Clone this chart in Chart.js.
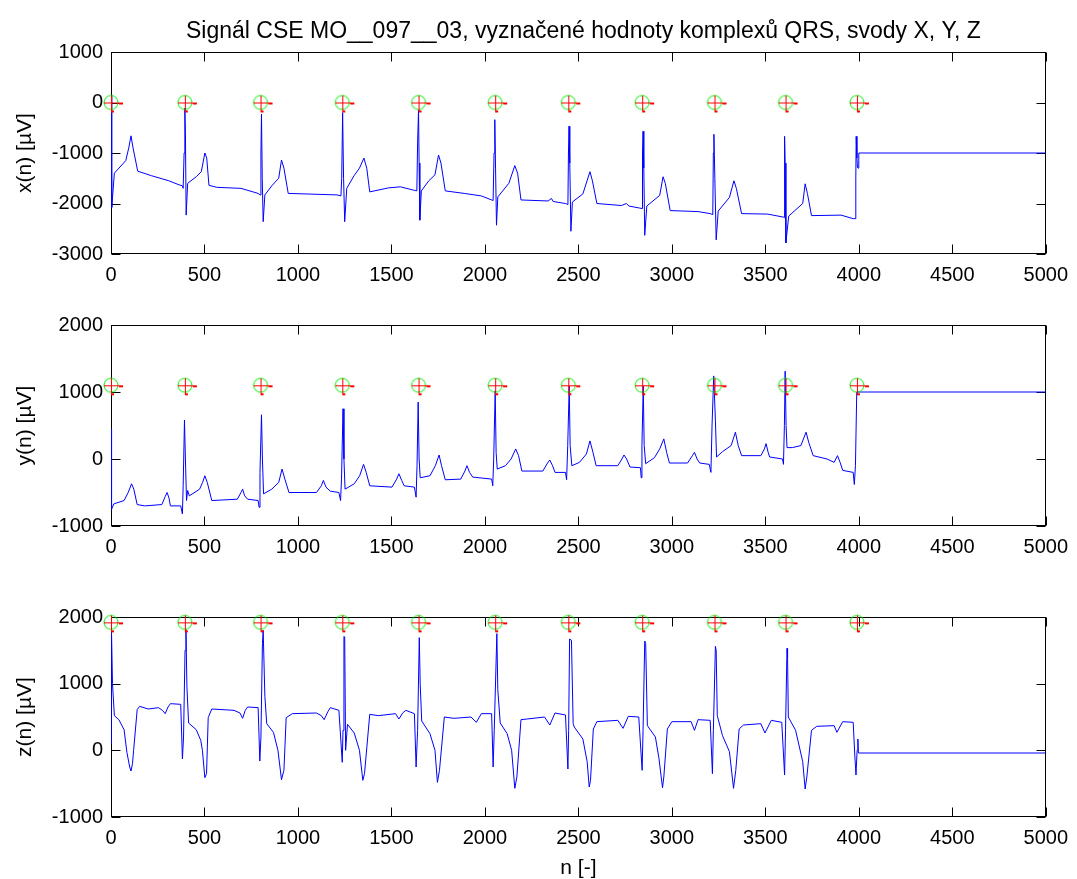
<!DOCTYPE html>
<html>
<head>
<meta charset="utf-8">
<script src="https://cdn.jsdelivr.net/npm/chart.js@4/dist/chart.umd.min.js"></script>
<style>
  body { margin: 0; background: #fff; width: 1077px; height: 879px; overflow: hidden; position: relative; }
  canvas { position: absolute; left: 0; }
</style>
</head>
<body>
<canvas id="c1" width="1077" height="290" style="top:0px"></canvas>
<canvas id="c2" width="1077" height="272" style="top:290px"></canvas>
<canvas id="c3" width="1077" height="317" style="top:562px"></canvas>
<script>
// QRS positions (sample index) and the level the markers are drawn at in each lead
const qrsN = [0, 395, 800, 1237, 1645, 2055, 2446, 2841, 3228, 3608, 3990];
const markerLevels = [0, 1100, 1920];

const yTitles = ['x(n) [µV]', 'y(n) [µV]', 'z(n) [µV]'];
const yMin = [-3000, -1000, -1000];
const yMax = [1000, 2000, 2000];

// lead X  [n, µV]
const leadX = [
  [0,150],[4,-2080],[18,-1400],[79,-1150],[95,-900],[107,-660],[118,-900],[143,-1360],[217,-1450],[309,-1550],[364,-1630],[382,-1650],
  [386,-1700],[391,-1000],[395,-110],[398,-600],[402,-2230],[410,-1600],[456,-1470],[483,-1370],[502,-1000],[512,-1100],[524,-1640],[566,-1680],[695,-1700],[787,-1800],
  [798,-1830],[802,-1000],[805,-230],[809,-1500],[814,-2360],[823,-1830],[860,-1650],[897,-1500],[912,-1140],[925,-1300],[948,-1800],[1209,-1830],[1230,-1850],
  [1234,-1500],[1239,-200],[1244,-1500],[1250,-2360],[1261,-1700],[1300,-1450],[1329,-1300],[1353,-1100],[1368,-1300],[1384,-1770],[1485,-1690],[1549,-1670],[1623,-1740],
  [1636,-1750],[1640,-800],[1645,-150],[1648,-1200],[1652,-2330],[1660,-1750],[1700,-1550],[1733,-1430],[1752,-1040],[1765,-1200],[1788,-1750],[1889,-1800],[1981,-1850],[2036,-1930],
  [2044,-1940],[2049,-1000],[2053,-340],[2057,-1300],[2062,-2430],[2069,-1870],[2128,-1600],[2160,-1250],[2175,-1400],[2193,-1930],[2338,-1950],[2356,-1900],[2365,-1960],[2431,-2000],
  [2444,-2020],[2447,-1000],[2450,-470],[2454,-1200],[2460,-2550],[2468,-1970],[2524,-1810],[2562,-1370],[2575,-1550],[2599,-2000],[2730,-2040],[2757,-2000],[2770,-2050],[2827,-2090],
  [2841,-2100],[2843,-1000],[2846,-570],[2850,-1300],[2855,-2630],[2866,-2050],[2935,-1840],[2953,-1470],[2965,-1600],[2991,-2140],[3140,-2160],[3205,-2200],
  [3219,-2220],[3222,-1000],[3225,-630],[3230,-1500],[3237,-2720],[3248,-2150],[3308,-1880],[3332,-1550],[3345,-1700],[3373,-2200],[3513,-2210],[3597,-2270],
  [3601,-2280],[3603,-670],[3606,-1200],[3610,-2780],[3625,-2250],[3700,-2000],[3713,-1610],[3725,-1800],[3747,-2240],[3905,-2230],[3970,-2300],
  [3980,-2300],[3984,-1500],[3986,-670],[3990,-1100],[3993,-1290],[3996,-1300],[4000,-1000],[5000,-1000]
];

// lead Y  [n, µV]
const leadY = [
  [0,450],[3,-750],[15,-670],[70,-620],[92,-500],[110,-370],[122,-450],[140,-680],[180,-700],[272,-680],[290,-560],[300,-500],[310,-580],[318,-700],[373,-700],
  [382,-820],[386,-400],[393,580],[398,0],[404,-620],[410,-470],[419,-550],[474,-450],[490,-350],[502,-250],[515,-350],[539,-620],[676,-600],[695,-500],[704,-450],[715,-550],[731,-600],[787,-620],
  [792,-720],[797,-200],[805,660],[810,0],[816,-520],[860,-450],[897,-350],[915,-150],[930,-300],[952,-500],[1099,-500],[1125,-400],[1136,-320],[1150,-420],[1173,-480],[1219,-500],
  [1228,-620],[1233,-300],[1241,750],[1246,0],[1252,-450],[1301,-370],[1330,-250],[1351,-80],[1365,-200],[1384,-400],[1503,-420],[1528,-300],[1540,-220],[1555,-320],[1568,-400],[1623,-420],
  [1632,-570],[1637,-100],[1643,850],[1648,0],[1654,-280],[1706,-250],[1735,-100],[1755,60],[1768,-100],[1788,-310],[1871,-300],[1893,-180],[1904,-100],[1918,-200],[1935,-270],[2036,-300],
  [2042,-400],[2047,0],[2055,1020],[2060,100],[2066,-150],[2110,-100],[2140,0],[2165,150],[2180,50],[2198,-180],[2310,-180],[2335,-60],[2347,-15],[2362,-100],[2375,-200],[2431,-200],
  [2437,-310],[2443,200],[2451,1090],[2456,200],[2465,-100],[2506,-50],[2543,75],[2562,270],[2578,100],[2595,-100],[2711,-100],[2733,0],[2744,60],[2758,0],[2776,-120],[2832,-130],
  [2836,-280],[2840,200],[2847,1090],[2852,200],[2860,-70],[2907,20],[2935,150],[2957,300],[2972,100],[2987,-60],[3084,-60],[3110,50],[3121,100],[3135,0],[3149,-60],[3200,-80],
  [3209,-200],[3215,500],[3224,1240],[3233,570],[3239,30],[3271,110],[3317,200],[3340,400],[3355,200],[3373,50],[3476,50],[3495,150],[3504,230],[3515,100],[3523,30],[3592,0],
  [3597,-80],[3602,500],[3606,1310],[3611,500],[3616,170],[3644,170],[3690,200],[3718,400],[3732,250],[3756,50],[3830,0],[3868,-50],[3886,50],[3900,-50],[3914,-170],[3970,-200],
  [3976,-380],[3982,-100],[3989,1000],[5000,1000]
];

// lead Z  [n, µV]
const leadZ = [
  [0,100],[2,1900],[8,1000],[18,520],[42,460],[70,310],[85,-30],[100,-250],[107,-310],[115,-200],[121,0],[140,610],[153,660],[199,620],[254,640],[275,600],[290,550],[305,650],[318,700],[373,690],
  [382,-130],[388,200],[396,1500],[401,1810],[406,960],[415,410],[456,310],[480,150],[489,0],[502,-410],[511,-350],[520,490],[539,620],[658,600],[690,560],[704,480],[718,600],[731,650],[787,640],
  [796,-160],[802,200],[810,1600],[814,1800],[823,810],[833,400],[869,270],[893,0],[912,-440],[925,-300],[937,490],[970,550],[1099,560],[1125,520],[1140,460],[1160,580],[1173,640],[1219,600],
  [1237,-180],[1241,300],[1246,1710],[1250,1700],[1255,0],[1265,390],[1301,260],[1329,0],[1347,-450],[1356,-350],[1384,540],[1430,520],[1522,550],[1540,470],[1560,560],[1577,600],[1623,550],
  [1632,-250],[1640,300],[1649,1690],[1654,990],[1662,440],[1706,250],[1733,0],[1746,-480],[1757,-300],[1783,500],[1834,480],[1926,500],[1954,420],[1981,550],[2036,550],
  [2044,-250],[2050,300],[2064,1750],[2069,910],[2082,410],[2119,250],[2143,0],[2160,-570],[2171,-400],[2193,460],[2226,470],[2319,500],[2347,380],[2375,560],[2431,530],
  [2444,-280],[2448,300],[2453,1670],[2463,1650],[2472,400],[2478,350],[2524,170],[2547,-170],[2558,-550],[2565,-450],[2580,320],[2599,430],[2711,450],[2739,330],[2767,510],[2823,500],
  [2841,-300],[2846,300],[2855,1640],[2860,1600],[2869,370],[2912,200],[2931,-120],[2950,-560],[2957,-400],[2976,320],[3000,430],[3103,430],[3121,300],[3140,460],[3205,450],
  [3217,-350],[3222,300],[3233,1560],[3237,1500],[3243,520],[3271,220],[3308,-20],[3330,-570],[3342,-300],[3360,320],[3383,380],[3476,400],[3498,260],[3532,450],[3588,420],
  [3603,-370],[3608,300],[3616,1530],[3619,1400],[3623,500],[3662,300],[3700,-170],[3713,-580],[3722,-400],[3747,300],[3775,360],[3868,370],[3883,270],[3914,430],[3970,420],
  [3979,-100],[3985,-370],[3991,0],[3995,170],[3998,-40],[5000,-40]
];

const leads = [leadX, leadY, leadZ];
const titleText = 'Signál CSE MO__097__03, vyznačené hodnoty komplexů QRS, svody X, Y, Z';
const FONT = "'Liberation Sans', Arial, sans-serif";

Chart.defaults.color = '#000';
Chart.defaults.font.family = FONT;
Chart.defaults.font.size = 20;

// green circle + red cross used by the QRS marks
function qrsMarker() {
  const c = document.createElement('canvas');
  c.width = 32; c.height = 32;
  const g = c.getContext('2d');
  g.strokeStyle = '#00ee00';
  g.lineWidth = 1;
  g.beginPath(); g.arc(16, 16, 7, 0, Math.PI * 2); g.stroke();
  g.strokeStyle = '#ff0000';
  g.beginPath();
  g.moveTo(9, 16.5); g.lineTo(24, 16.5);
  g.moveTo(16.5, 9); g.lineTo(16.5, 24);
  g.stroke();
  g.lineWidth = 2;
  g.beginPath();
  g.moveTo(24, 17); g.lineTo(28, 17);
  g.moveTo(16, 25); g.lineTo(19, 25);
  g.stroke();
  return c;
}
const marker = qrsMarker();

// MATLAB style box with inward ticks on all four sides
const boxPlugin = {
  id: 'box',
  beforeDatasetsDraw(chart) {
    const { ctx, chartArea: a, scales } = chart;
    const L = Math.round(a.left) + 0.5, R = Math.round(a.right) - 0.5;
    const T = Math.round(a.top) + 0.5, B = Math.round(a.bottom) - 0.5;
    ctx.save();
    ctx.strokeStyle = '#000';
    ctx.lineWidth = 1;
    ctx.strokeRect(L, T, R - L, B - T);
    ctx.beginPath();
    scales.x.ticks.forEach(t => {
      const px = Math.round(scales.x.getPixelForValue(t.value)) + 0.5;
      ctx.moveTo(px, B); ctx.lineTo(px, B - 9);
      ctx.moveTo(px, T); ctx.lineTo(px, T + 9);
    });
    scales.y.ticks.forEach(t => {
      const py = Math.round(scales.y.getPixelForValue(t.value)) + 0.5;
      ctx.moveTo(L, py); ctx.lineTo(L + 9, py);
      ctx.moveTo(R, py); ctx.lineTo(R - 9, py);
    });
    ctx.stroke();
    ctx.restore();
  }
};

const titlePlugin = {
  id: 'figTitle',
  afterDraw(chart) {
    if (chart.canvas.id !== 'c1') return;
    const { ctx, chartArea: a } = chart;
    ctx.save();
    ctx.fillStyle = '#000';
    ctx.font = '23px ' + FONT;
    ctx.textAlign = 'center';
    ctx.textBaseline = 'middle';
    ctx.fillText(titleText, (a.left + a.right) / 2 + 5, 32);
    ctx.restore();
  }
};

const padTop = [52, 35, 55];
const xAxisH = [36, 36, 62];
const plain = v => String(v);

leads.forEach((lead, i) => {
  const last = i === 2;
  new Chart(document.getElementById('c' + (i + 1)), {
    type: 'line',
    data: {
      datasets: [
        {
          label: 'QRS',
          data: qrsN.map(n => ({ x: n, y: markerLevels[i] })),
          showLine: false,
          pointStyle: marker,
          pointRadius: 7,
          clip: false,
          order: 1
        },
        {
          label: 'signal',
          data: lead.map(p => ({ x: p[0], y: p[1] })),
          borderColor: '#0000ff',
          borderWidth: 1,
          pointRadius: 0,
          tension: 0,
          order: 2
        }
      ]
    },
    options: {
      responsive: false,
      animation: false,
      events: [],
      layout: { padding: { top: padTop[i], right: 29, left: 0, bottom: 0 } },
      plugins: { legend: { display: false }, tooltip: { enabled: false } },
      scales: {
        x: {
          type: 'linear',
          min: 0, max: 5000,
          grid: { display: false, drawTicks: false },
          border: { display: false },
          ticks: { stepSize: 500, padding: 9, maxRotation: 0, autoSkip: false, callback: plain },
          title: {
            display: last, text: 'n [-]',
            font: { size: 21, lineHeight: 1 },
            padding: { top: 0, bottom: 0 }
          },
          afterFit(s) { s.height = xAxisH[i]; }
        },
        y: {
          min: yMin[i], max: yMax[i],
          grid: { display: false, drawTicks: false },
          border: { display: false },
          ticks: { stepSize: 1000, padding: 8, callback: plain },
          title: { display: true, text: yTitles[i], font: { size: 21 }, padding: { top: 13, bottom: 0 } },
          afterFit(s) { s.width = 111; }
        }
      }
    },
    plugins: [boxPlugin, titlePlugin]
  });
});
</script>
</body>
</html>
